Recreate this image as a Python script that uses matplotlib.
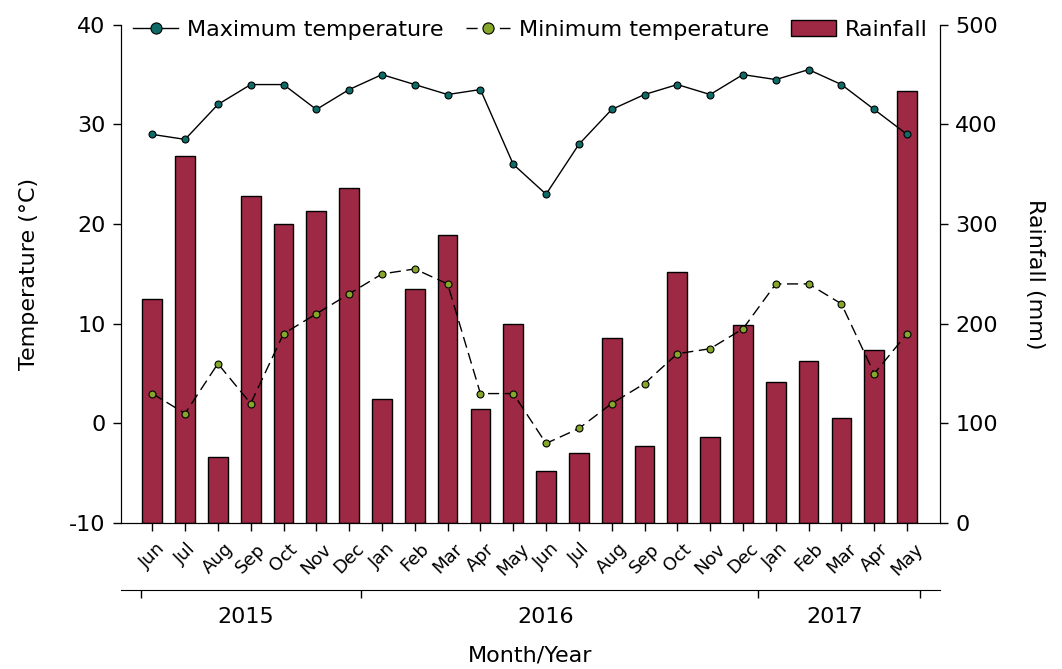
import matplotlib.pyplot as plt
import numpy as np

plt.rcParams['font.family'] = ['DejaVu Sans']

maanden = ["Jun", "Jul", "Aug", "Sep", "Oct", "Nov", "Dec", "Jan", "Feb", "Mar", "Apr", "May",
           "Jun", "Jul", "Aug", "Sep", "Oct", "Nov", "Dec", "Jan", "Feb", "Mar", "Apr", "May"]
max_temp = [29, 28.5, 32, 34, 34, 31.5, 33.5, 35, 34, 33, 33.5, 26,
            23, 28, 31.5, 33, 34, 33, 35, 34.5, 35.5, 34, 31.5, 29]
min_temp = [3, 1, 6, 2, 9, 11, 13, 15, 15.5, 14, 3, 3,
            -2, -0.5, 2, 4, 7, 7.5, 9.5, 14, 14, 12, 5, 9]
regen = [225, 368, 66, 328, 300, 313, 336, 125, 235, 289, 115, 200,
         52, 70, 186, 77, 252, 86, 199, 142, 163, 105, 174, 434]
jaren = ["2015", "2016", "2017"]

x = np.arange(len(maanden))

fig = plt.figure(figsize=(10.62, 6.69), dpi=100)
ax = fig.add_axes([0.114, 0.218, 0.771, 0.745])
ax2 = ax.twinx()

ax2.bar(x, regen, width=0.6, color="#9E2944", edgecolor="black", linewidth=1,
        label="Rainfall")
ax.plot(x, max_temp, "-o", color="black", lw=1, markersize=5,
        markerfacecolor="#0E6B68", markeredgecolor="black", markeredgewidth=0.8,
        label="Maximum temperature")
ax.plot(x, min_temp, "--o", color="black", lw=1, dashes=(8, 4), markersize=5,
        markerfacecolor="#86A62C", markeredgecolor="black", markeredgewidth=0.8,
        label="Minimum temperature")

ax.set_zorder(ax2.get_zorder() + 1)
ax.patch.set_visible(False)

ax.set_ylim(-10, 40)
ax2.set_ylim(0, 500)
ax.set_xlim(-0.95, 24.0)
ax.set_yticks(range(-10, 41, 10))
ax.set_yticklabels([str(v) for v in range(-10, 41, 10)])
ax2.set_yticks(range(0, 501, 100))

ax.set_xticks(x)
ax.set_xticklabels(maanden, rotation=45, ha="center")

for a in (ax, ax2):
    a.spines["top"].set_visible(False)
    a.tick_params(labelsize=16, direction="out", length=6, width=1, pad=5)
ax.tick_params(axis="x", labelsize=13, pad=6)

ax.set_ylabel("Temperature (°C)", fontsize=16, labelpad=22)
ax2.set_ylabel("Rainfall (mm)", fontsize=16, rotation=270, labelpad=34)

# jaar-as onder de maanden
sec = ax.secondary_xaxis(-0.135)
sec.set_xticks([-0.35, 6.35, 18.45, 23.4])
sec.set_xticklabels([])
sec.set_xticks([2.84, 11.98, 20.8], minor=True)
sec.set_xticklabels(jaren, minor=True, fontsize=16)
sec.tick_params(which="major", direction="out", length=6, width=1)
sec.tick_params(which="minor", length=0, pad=12)
sec.set_xlabel("Month/Year", fontsize=16, labelpad=13)

h1, l1 = ax.get_legend_handles_labels()
h2, l2 = ax2.get_legend_handles_labels()
ax.legend(h1 + h2, l1 + l2, loc="upper center", bbox_to_anchor=(0.5, 1.05),
          ncol=3, frameon=False, fontsize=16, handlelength=2.0, markerscale=1.6,
          columnspacing=1.0, handletextpad=0.4)

fig.savefig("out.png", dpi=100)
